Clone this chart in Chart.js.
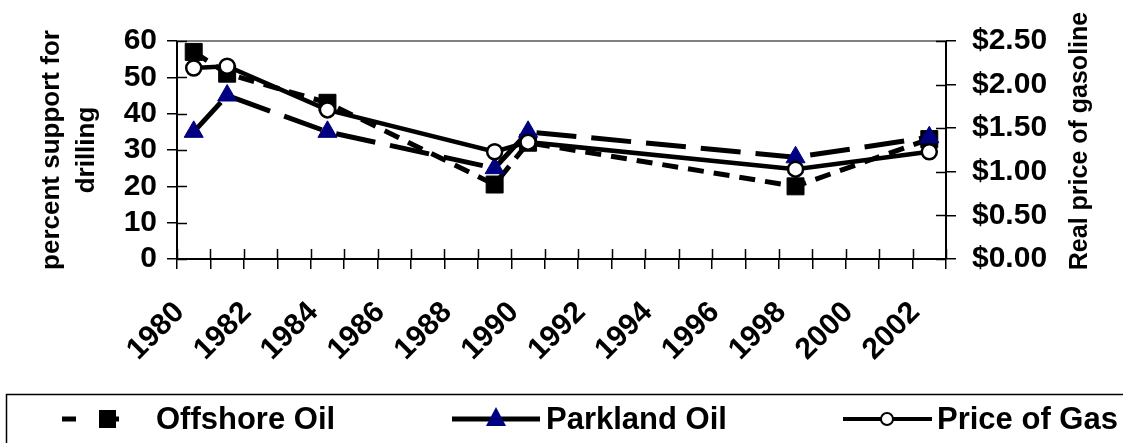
<!DOCTYPE html>
<html>
<head>
<meta charset="utf-8">
<script src="https://cdn.jsdelivr.net/npm/chart.js@4/dist/chart.umd.min.js"></script>
<style>
  html, body { margin: 0; padding: 0; background: #fff; }
  #chart { display: block; }
</style>
</head>
<body>
<canvas id="chart" width="1123" height="443"></canvas>
<script>
// categories on the x axis (one per year)
const years = [];
for (let y = 1980; y <= 2002; y++) years.push(String(y));

// survey years and values
const surveyYears = ["1980", "1981", "1984", "1989", "1990", "1998", "2002"];
const offshoreOil = [57, 51, 43, 20.5, 32, 20, 33];
const parklandOil = [35, 45, 35, 25, 35, 28, 33.5];
const gasPrice = [2.19, 2.21, 1.71, 1.23, 1.34, 1.03, 1.23];

const leftTicks = [0, 10, 20, 30, 40, 50, 60];
const rightTicks = [0, 0.5, 1, 1.5, 2, 2.5];

const FONT = '"Liberation Sans", Arial, sans-serif';

const toPoints = (vals) => surveyYears.map((x, i) => ({ x: x, y: vals[i] }));

// draws the inner half of tick marks, the grey top border,
// axis titles and the legend box at the bottom
const extrasPlugin = {
    id: "extras",
    afterDraw(chart) {
        const ctx = chart.ctx;
        const area = chart.chartArea;
        const xs = chart.scales.x;
        const yl = chart.scales.y;
        const yr = chart.scales.y1;

        ctx.save();
        // grey top border
        ctx.strokeStyle = "#808080";
        ctx.lineWidth = 2;
        ctx.beginPath();
        ctx.moveTo(area.left, area.top);
        ctx.lineTo(area.right, area.top);
        ctx.stroke();

        // inner tick halves
        ctx.strokeStyle = "#000";
        ctx.lineWidth = 1.5;
        ctx.beginPath();
        for (let i = 0; i <= years.length; i++) {
            const px = Math.round(xs.getPixelForValue(i - 0.5)) + 0.5;
            ctx.moveTo(px, area.bottom);
            ctx.lineTo(px, area.bottom - 10);
        }
        yl.ticks.forEach((t) => {
            const py = Math.round(yl.getPixelForValue(t.value)) + 0.5;
            ctx.moveTo(area.left, py);
            ctx.lineTo(area.left + 10, py);
        });
        yr.ticks.forEach((t) => {
            const py = Math.round(yr.getPixelForValue(t.value)) + 0.5;
            ctx.moveTo(area.right, py);
            ctx.lineTo(area.right - 10, py);
        });
        ctx.stroke();

        // axis titles
        ctx.fillStyle = "#000";
        ctx.font = "bold 26px " + FONT;
        ctx.textAlign = "center";
        ctx.textBaseline = "middle";
        ctx.save();
        ctx.translate(52, 150);
        ctx.rotate(-Math.PI / 2);
        ctx.fillText("percent support for", 0, 0);
        ctx.translate(0, 35);
        ctx.fillText("drilling", 0, 0);
        ctx.restore();

        ctx.save();
        ctx.font = "bold 25px " + FONT;
        ctx.translate(1080, 141);
        ctx.rotate(-Math.PI / 2);
        ctx.fillText("Real price of gasoline", 0, 0);
        ctx.restore();

        // legend
        const ly = 419;
        ctx.lineWidth = 1.5;
        ctx.strokeRect(6.5, 394.5, 1200, 100);

        // Offshore Oil
        ctx.lineWidth = 5;
        ctx.beginPath();
        ctx.moveTo(62, ly);
        ctx.lineTo(76, ly);
        ctx.moveTo(112, ly);
        ctx.lineTo(119, ly);
        ctx.stroke();
        ctx.fillRect(99, ly - 9, 17, 18);

        // Parkland Oil
        ctx.beginPath();
        ctx.moveTo(452, ly);
        ctx.lineTo(540, ly);
        ctx.stroke();
        ctx.fillStyle = "#000080";
        ctx.beginPath();
        ctx.moveTo(496, ly - 12);
        ctx.lineTo(506, ly + 7);
        ctx.lineTo(486, ly + 7);
        ctx.closePath();
        ctx.fill();

        // Price of Gas
        ctx.lineWidth = 4;
        ctx.beginPath();
        ctx.moveTo(843, ly);
        ctx.lineTo(932, ly);
        ctx.stroke();
        ctx.fillStyle = "#fff";
        ctx.lineWidth = 2;
        ctx.beginPath();
        ctx.arc(887, ly, 6, 0, Math.PI * 2);
        ctx.fill();
        ctx.stroke();

        ctx.fillStyle = "#000";
        ctx.font = "bold 31px " + FONT;
        ctx.textAlign = "left";
        ctx.fillText("Offshore Oil", 156, ly + 1);
        ctx.fillText("Parkland Oil", 546, ly + 1);
        ctx.fillText("Price of Gas", 937, ly + 1);
        ctx.restore();
    },
};

const tickFont = { family: FONT, size: 30, weight: "bold" };

new Chart(document.getElementById("chart"), {
    type: "line",
    data: {
        labels: years,
        datasets: [
            {
                label: "Offshore Oil",
                data: toPoints(offshoreOil),
                yAxisID: "y",
                order: 2,
                borderColor: "#000",
                borderWidth: 5,
                borderDash: [16, 10],
                pointStyle: "rect",
                pointRadius: 12,
                pointBackgroundColor: "#000",
                pointBorderColor: "#000",
                pointBorderWidth: 1,
            },
            {
                label: "Parkland Oil",
                data: toPoints(parklandOil),
                yAxisID: "y",
                order: 1,
                borderColor: "#000",
                borderWidth: 5,
                borderDash: [40, 15],
                pointStyle: "triangle",
                pointRadius: 11,
                pointBackgroundColor: "#000080",
                pointBorderColor: "#000080",
                pointBorderWidth: 1,
            },
            {
                label: "Price of Gas",
                data: toPoints(gasPrice),
                yAxisID: "y1",
                order: 0,
                borderColor: "#000",
                borderWidth: 4.5,
                pointStyle: "circle",
                pointRadius: 7.5,
                pointBackgroundColor: "#fff",
                pointBorderColor: "#000",
                pointBorderWidth: 2.5,
            },
        ],
    },
    options: {
        responsive: false,
        animation: false,
        devicePixelRatio: 1,
        layout: { padding: { left: 0, right: 0, top: 41, bottom: 74 } },
        plugins: {
            legend: { display: false },
            tooltip: { enabled: false },
        },
        scales: {
            x: {
                type: "category",
                offset: true,
                afterFit: (scale) => { scale.height = 110; },
                grid: {
                    offset: true,
                    drawOnChartArea: false,
                    tickLength: 10,
                    color: "#000",
                    lineWidth: 1.5,
                },
                border: { color: "#000", width: 2 },
                ticks: {
                    autoSkip: false,
                    minRotation: 45,
                    maxRotation: 45,
                    padding: 26,
                    labelOffset: -14,
                    color: "#000",
                    font: tickFont,
                    callback: function (val, i) {
                        return i % 2 === 0 ? years[i] : "";
                    },
                },
            },
            y: {
                position: "left",
                min: leftTicks[0],
                max: leftTicks[leftTicks.length - 1],
                afterFit: (scale) => { scale.width = 177; },
                afterBuildTicks: (scale) => {
                    scale.ticks = leftTicks.map((v) => ({ value: v }));
                },
                grid: {
                    drawOnChartArea: false,
                    tickLength: 10,
                    color: "#000",
                    lineWidth: 1.5,
                },
                border: { color: "#000", width: 2 },
                ticks: { autoSkip: false, padding: 10, color: "#000", font: tickFont },
            },
            y1: {
                position: "right",
                min: rightTicks[0],
                max: rightTicks[rightTicks.length - 1],
                afterFit: (scale) => { scale.width = 177; },
                afterBuildTicks: (scale) => {
                    scale.ticks = rightTicks.map((v) => ({ value: v }));
                },
                grid: {
                    drawOnChartArea: false,
                    tickLength: 10,
                    color: "#000",
                    lineWidth: 1.5,
                },
                border: { color: "#000", width: 2 },
                ticks: {
                    autoSkip: false,
                    padding: 16,
                    color: "#000",
                    font: tickFont,
                    callback: (v) => "$" + Number(v).toFixed(2),
                },
            },
        },
    },
    plugins: [extrasPlugin],
});
</script>
</body>
</html>
